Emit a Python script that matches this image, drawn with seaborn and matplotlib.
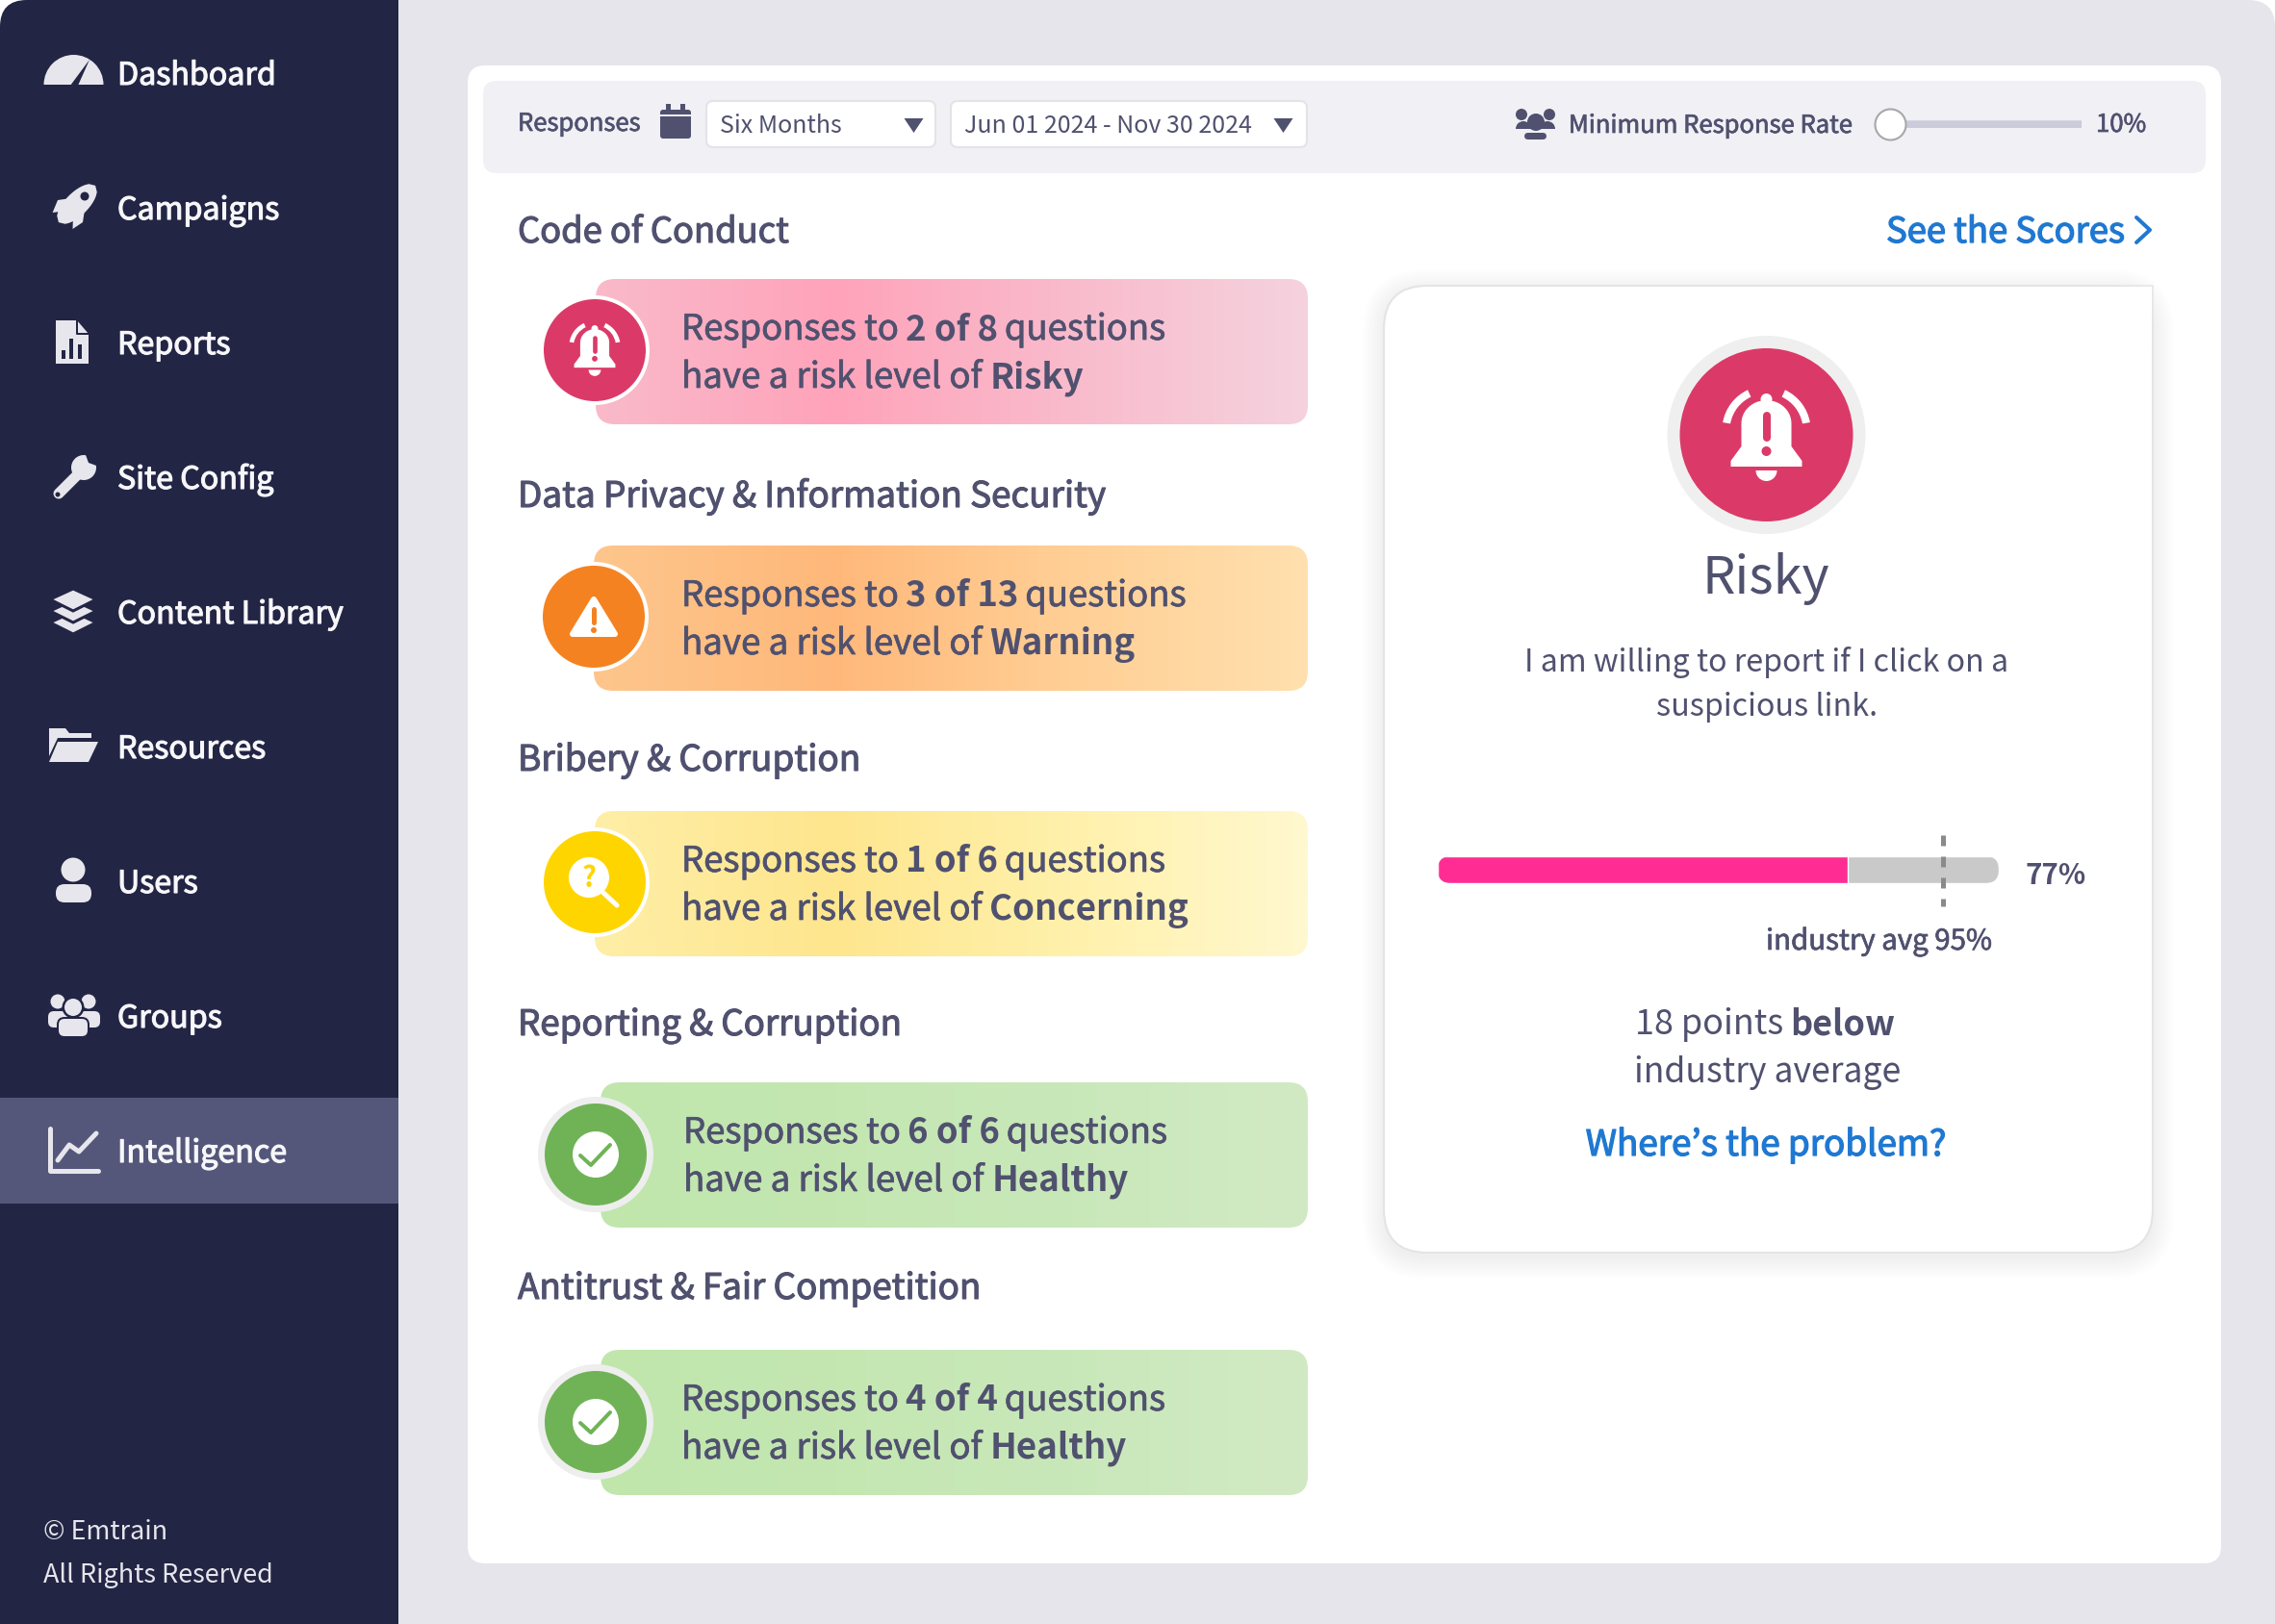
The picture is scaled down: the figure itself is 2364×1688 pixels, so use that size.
"""Emtrain intelligence dashboard: risk summary per culture category."""

import matplotlib.patheffects as pe
import matplotlib.pyplot as plt
import numpy as np
import seaborn as sns
from matplotlib.patches import Circle, FancyBboxPatch, Polygon, Rectangle, Wedge

SIDEBAR_ITEMS = ['Dashboard', 'Campaigns', 'Reports', 'Site Config', 'Content Library',
                 'Resources', 'Users', 'Groups', 'Intelligence']
CATEGORIES = ['Code of Conduct', 'Data Privacy & Information Security', 'Bribery & Corruption',
              'Reporting & Corruption', 'Antitrust & Fair Competition']
RISK_LEVELS = ['Risky', 'Warning', 'Concerning', 'Healthy', 'Healthy']
RISK_COUNTS = [2, 3, 1, 6, 4]
QUESTION_TOTALS = [8, 13, 6, 6, 4]

SCORE = 77
INDUSTRY_AVG = 95
BAR_TRACK = 105.4
SLIDER_RANGE = [10, 100]
SLIDER_VALUE = 10

W, H = 2364, 1688
FONT = ['Noto Sans CJK KR', 'DejaVu Sans']
INK = '#50516F'
NAVY = '#232545'
ICON = '#E6E6EC'
BLUE = '#1F78D1'

HEADING_BASE = [252, 527, 801, 1076, 1350]
HEADING_SIZE = [36.3, 36.85, 36.95, 36.7, 36.8]
PILL_TOP = [290, 567, 843, 1125, 1403]
PILL_LEFT = [619, 617, 618, 624, 624]
CIRCLE_X = [618, 617, 618, 619, 619]
CIRCLE_Y = [364, 641, 917, 1200, 1478]
TEXT_X = [708, 708, 708, 710, 708]

RISK_STYLE = {
    'Risky': dict(color='#DB3A68', ring='#FFFFFF',
                  stops=['#F9BACA', '#FFA3BA', '#F9BBCC', '#F5D2DE']),
    'Warning': dict(color='#F58220', ring='#FFFFFF',
                    stops=['#FDC68C', '#FFB87A', '#FFCF95', '#FFE0AE']),
    'Concerning': dict(color='#FFD500', ring='#FFFFFF',
                       stops=['#FEEEA6', '#FEE68E', '#FFF1AB', '#FFF8CF']),
    'Healthy': dict(color='#70B356', ring='#EEEEEE',
                    stops=['#C0E6AC', '#C4E7B2', '#C9E8BA', '#D2EAC4']),
}

sns.set_theme(style='white')
plt.rcParams['font.family'] = FONT

fig = plt.figure(figsize=(W / 100, H / 100), dpi=100, facecolor='white')
ax = fig.add_axes([0, 0, 1, 1])
ax.set_axis_off()


def px(size):
    return size * 0.72


def rbox(x0, y0, x1, y1, r, color='white', z=1, **kw):
    patch = FancyBboxPatch((x0, y0), x1 - x0, y1 - y0, boxstyle=f'round,pad=0,rounding_size={r}',
                           facecolor=color, edgecolor=kw.pop('edge', 'none'), zorder=z, **kw)
    ax.add_patch(patch)
    return patch


def rect(x0, y0, x1, y1, color, z=1):
    ax.add_patch(Rectangle((x0, y0), x1 - x0, y1 - y0, facecolor=color, edgecolor='none', zorder=z))


def circ(x, y, r, color, z=5, **kw):
    ax.add_patch(Circle((x, y), r, facecolor=color, edgecolor='none', zorder=z, **kw))


def wedge(x, y, r, t0, t1, color, z=5, **kw):
    ax.add_patch(Wedge((x, y), r, t0, t1, facecolor=color, edgecolor='none', zorder=z, **kw))


def poly(points, color, z=5, **kw):
    ax.add_patch(Polygon(points, closed=True, facecolor=color, edgecolor=kw.pop('edge', 'none'),
                         zorder=z, **kw))


def stroke(xs, ys, color, lw, z=6, **kw):
    ax.plot(xs, ys, color=color, lw=px(lw), zorder=z, solid_capstyle=kw.pop('cap', 'round'),
            solid_joinstyle='round', **kw)


def text(x, y, s, size, color=INK, weight='normal', ha='left', thick=0.0):
    # the font has no medium cut here, a thin outline stands in for it
    t = ax.text(x, y, s, fontsize=px(size), color=color, fontweight=weight, ha=ha,
                va='baseline', zorder=8)
    if thick:
        t.set_path_effects([pe.withStroke(linewidth=thick, foreground=color)])
    return t


def runs(x, y, parts, size, color=INK, thick=0.0):
    # bold and regular pieces on one line
    renderer = fig.canvas.get_renderer()
    for s, weight in parts:
        t = text(x, y, s, size, color, weight, thick=0.0 if weight == 'bold' else thick)
        x += t.get_window_extent(renderer).width + 0.2 * size


def bell(cx, cy, s, inner):
    dome = np.linspace(np.pi, 2 * np.pi, 24)
    pts = [(-37, 33), (-37, 27), (-26, 12)]
    pts += [(26 * np.cos(a), -12 + 24 * np.sin(a)) for a in dome]
    pts += [(26, 12), (37, 27), (37, 33)]
    poly([(cx + a * s, cy + b * s) for a, b in pts], 'white', z=6)
    circ(cx, cy - 37 * s, 6 * s, 'white', z=6)
    wedge(cx, cy + 37 * s, 11 * s, 0, 180, 'white', z=6)
    stroke([cx, cx], [cy - 20 * s, cy + 3 * s], inner, 8 * s, z=7)
    circ(cx, cy + 17 * s, 5 * s, inner, z=7)
    for t0, t1 in [(190, 245), (295, 350)]:
        wedge(cx, cy - 5 * s, 46 * s, t0, t1, 'white', z=6, width=8 * s)


def warning(cx, cy, inner):
    poly([(cx, cy - 18), (cx + 22, cy + 18), (cx - 22, cy + 18)], 'white', z=6, edge='white',
         lw=px(6), joinstyle='round')
    stroke([cx, cx], [cy - 8, cy + 6], inner, 5, z=7)
    circ(cx, cy + 14, 3, inner, z=7)


def search(cx, cy, inner):
    circ(cx - 6, cy - 5, 21, 'white', z=6)
    stroke([cx + 8, cx + 23], [cy + 10, cy + 24], 'white', 5)
    text(cx - 6, cy + 5, '?', 29, inner, 'bold', ha='center')


def check(cx, cy, inner):
    circ(cx, cy, 24, 'white', z=6)
    stroke([cx - 16, cx - 5, cx + 15], [cy + 1, cy + 11, cy - 10], inner, 4, z=7)


# page background, only the top corners are rounded
rbox(0, 0, W, 200, 28, '#E5E5EB')
rect(0, 100, W, H, '#E5E5EB')
rbox(0, 0, 300, 200, 28, NAVY, z=2)
rect(100, 0, 414, H, NAVY, z=2)
rect(0, 100, 414, H, NAVY, z=2)
rect(0, 1141, 414, 1251, '#55577A', z=3)

# sidebar labels
for i, item in enumerate(SIDEBAR_ITEMS):
    text(122, 88 + 140 * i, item, 32.2, '#F7F7FA', thick=0.8)
text(45, 1600, '\u00a9 Emtrain', 27, '#E6E6EC')
text(45, 1645, 'All Rights Reserved', 27, '#E6E6EC')

# sidebar icons
wedge(76.5, 88, 31, 180, 360, ICON)
poly([(73, 89), (81, 89), (93, 62)], NAVY, z=6)
# rocket, body along the diagonal
along = np.array([0.707, -0.707])
across = np.array([0.707, 0.707])
body = [np.array([80, 212]) + along * 27 * t + across * sign * 12 * (1 - t ** 2) ** 0.5
        for sign, ts in [(1, np.linspace(-1, 1, 16)), (-1, np.linspace(1, -1, 16))] for t in ts]
poly(body, ICON)
poly([(74, 206), (60, 208), (54.6, 221), (69, 219)], ICON)
poly([(88, 218), (86, 231), (75.5, 238), (76, 224)], ICON)
circ(88, 204, 4.5, NAVY, z=6)
poly([(58, 333), (80, 333), (92, 347), (92, 378), (58, 378)], ICON)
stroke([80, 80, 92], [333, 347, 347], NAVY, 2, z=6)
for bx, top in [(66, 364), (74, 352), (83, 358)]:
    stroke([bx, bx], [top, 373], NAVY, 4, z=6, cap='butt')
stroke([61, 86], [513, 488], ICON, 11, z=5)
circ(87, 486, 13, ICON)
wedge(92, 481, 9, 250, 20, NAVY, z=6)
circ(60, 514, 2.5, NAVY, z=6)
for off in (24, 12, 0):
    poly([(76, 612 + off), (100, 623 + off), (76, 635 + off), (52, 623 + off)], ICON, edge=NAVY,
         lw=px(3))
poly([(51, 757), (68, 757), (72, 762), (95, 762), (95, 767), (60, 767), (51, 786)], ICON)
poly([(60, 771), (102, 771), (92, 792), (51, 792)], ICON)
circ(76, 904, 12.5, ICON)
rbox(58, 919, 95, 938, 9, ICON, z=5)
for hx, x0, x1 in [(60, 50, 70), (92, 82, 104)]:
    circ(hx, 1041, 7.5, ICON)
    rbox(x0, 1051, x1, 1068, 6, ICON, z=5)
circ(76, 1047, 11.5, NAVY, z=6)
circ(76, 1047, 9, ICON, z=7)
rbox(60, 1058, 92, 1078, 7, ICON, z=7, edge=NAVY, lw=px(2))
stroke([52, 52, 102], [1173, 1217, 1217], ICON, 5)
stroke([60, 72, 82, 100], [1206, 1190, 1197, 1178], ICON, 5)

# main card and filter bar
rbox(486, 68, 2308, 1625, 18, 'white', z=2)
rbox(502, 84, 2292, 180, 14, '#F0F0F5', z=3)
text(538, 136, 'Responses', 25.6, INK, thick=0.5)
rbox(686, 114, 718, 144, 3, INK, z=5)
rect(686, 119, 718, 121, '#F0F0F5', z=6)
rect(692, 108, 697, 115, INK, z=5)
rect(707, 108, 712, 115, INK, z=5)
for x0, x1, arrow, label in [(734, 972, 949.5, 'Six Months'), (988, 1358, 1333.5, 'Jun 01 2024 - Nov 30 2024')]:
    rbox(x0, 105, x1, 153, 7, 'white', z=4, edge='#E3E3E8', lw=1.5)
    text(x0 + 14, 138, label, 25, INK)
    poly([(arrow - 10, 123), (arrow + 10, 123), (arrow, 138)], INK)

circ(1596, 127, 9, INK)
circ(1581, 119, 6, INK)
circ(1610, 119, 6, INK)
wedge(1583, 134, 8, 180, 360, INK)
wedge(1608, 134, 8, 180, 360, INK)
rbox(1583, 137, 1608, 146, 5, INK, z=6, edge='#F0F0F5', lw=px(2))
text(1630, 138, 'Minimum Response Rate', 25.6, INK, thick=0.5)
text(2178, 137, '10%', 25.7, INK, thick=0.5)

text(1960, 252, 'See the Scores', 36.4, BLUE, thick=0.9)
stroke([2220, 2234, 2220], [226, 239, 252], BLUE, 4)

# category rows
for i, category in enumerate(CATEGORIES):
    level = RISK_LEVELS[i]
    style = RISK_STYLE[level]
    text(538, HEADING_BASE[i], category, HEADING_SIZE[i], INK, thick=0.8)

    top, bottom = PILL_TOP[i], PILL_TOP[i] + 151
    left = PILL_LEFT[i]
    outline = rbox(left, top, 1359, bottom, 20, 'none', z=2)
    cmap = sns.blend_palette(style['stops'], n_colors=256, as_cmap=True)
    image = ax.imshow(np.linspace(0, 1, 256)[None, :], extent=(left, 1359, bottom, top), cmap=cmap,
                      aspect='auto', zorder=3)
    image.set_clip_path(outline)

    cx, cy = CIRCLE_X[i], CIRCLE_Y[i]
    ring = 60 if level == 'Healthy' else 57
    circ(cx, cy, ring, style['ring'], z=4)
    circ(cx, cy, 53, style['color'], z=5)
    if level == 'Risky':
        bell(cx, cy - 1, 0.58, style['color'])
    elif level == 'Warning':
        warning(cx, cy, style['color'])
    elif level == 'Concerning':
        search(cx, cy, style['color'])
    else:
        check(cx, cy, style['color'])

    runs(TEXT_X[i], top + 63, [('Responses to', 'normal'),
                               (f'{RISK_COUNTS[i]} of {QUESTION_TOTALS[i]}', 'bold'),
                               ('questions', 'normal')], 36.5, thick=0.5)
    runs(TEXT_X[i], top + 113, [('have a risk level of', 'normal'), (level, 'bold')], 36.7, thick=0.5)

# detail card, soft shadow first
for e in range(22, 0, -3):
    rbox(1438 - e, 297 - e + 5, 2237 + e, 1302 + e + 5, 45 + e, 'black', z=2, alpha=0.006)
rbox(1438, 297, 2237, 1302, 45, 'white', z=3, edge='#E4E4E8', lw=1.5)
rect(2180, 298, 2236, 360, 'white', z=3)
stroke([2180, 2237, 2237], [297, 297, 360], '#E4E4E8', 1.5, z=4, cap='butt')

circ(1835.5, 452, 103, '#EFEFEF', z=4)
circ(1835.5, 452, 90, '#DB3A68', z=5)
bell(1835.5, 452, 1, '#DB3A68')
text(1835, 617, 'Risky', 54, INK, ha='center')
text(1836, 698, 'I am willing to report if I click on a', 32.2, INK, ha='center')
text(1836, 744, 'suspicious link.', 32.2, INK, ha='center')
text(2104, 919, f'{SCORE}%', 29.5, INK, 'bold')
text(1835, 987, f'industry avg {INDUSTRY_AVG}%', 29.4, INK, thick=0.5)
runs(1699, 1075, [('18 points', 'normal'), ('below', 'bold')], 36)
text(1837, 1125, 'industry average', 35.5, INK, ha='center')
text(1835, 1201, 'Where\u2019s the problem?', 36.8, BLUE, ha='center', thick=0.9)

ax.set_xlim(0, W)
ax.set_ylim(H, 0)

# progress bar, 0 sits on the left edge of the track
bar_x0, bar_x1, bar_y0, bar_y1 = 1494, 2077, 890, 918
bar_ax = fig.add_axes([bar_x0 / W, 1 - bar_y1 / H, (bar_x1 - bar_x0) / W, (bar_y1 - bar_y0) / H])
sns.barplot(x=[BAR_TRACK], y=['score'], color='#C9C9C9', saturation=1, width=1, ax=bar_ax)
sns.barplot(x=[SCORE], y=['score'], color='#FF2D93', saturation=1, width=1, ax=bar_ax)
bar_ax.set_xlim(0, BAR_TRACK)
bar_ax.set_ylim(0.5, -0.5)
bar_ax.set_axis_off()
track_shape = FancyBboxPatch((bar_x0, bar_y0), bar_x1 - bar_x0, bar_y1 - bar_y0,
                             boxstyle='round,pad=0,rounding_size=14', transform=ax.transData)
for bar in bar_ax.patches:
    bar.set_clip_path(track_shape)
bar_ax.plot([INDUSTRY_AVG, INDUSTRY_AVG], [-1.28, 1.35], color='#8A8A8A', lw=px(5),
            ls=(0, (2.2, 2.2)), clip_on=False, zorder=6)

# minimum response rate slider
sl_ax = fig.add_axes([1964 / W, 1 - 133 / H, (2163 - 1964) / W, 9 / H])
sns.lineplot(x=SLIDER_RANGE, y=[0, 0], color='#CBCBDB', lw=px(8.5), solid_capstyle='round', ax=sl_ax)
sns.scatterplot(x=[SLIDER_VALUE], y=[0], s=px(32) ** 2, color='white', edgecolor='#A8A8A8',
                linewidth=1.5, clip_on=False, zorder=5, ax=sl_ax)
sl_ax.set_xlim(*SLIDER_RANGE)
sl_ax.set_ylim(-1, 1)
sl_ax.set_axis_off()

fig.savefig('out.png', dpi=100)
